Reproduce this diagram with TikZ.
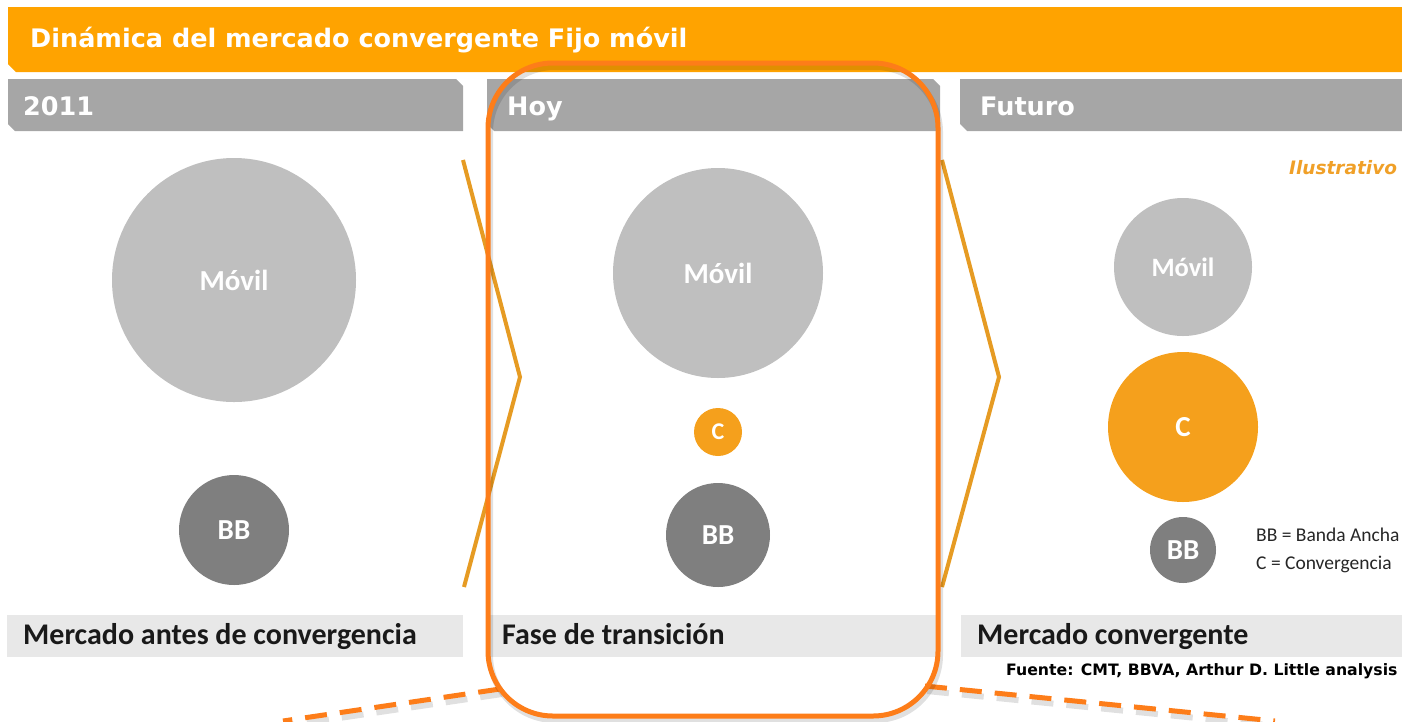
\documentclass[tikz,border=0pt]{standalone}
\usepackage{fontspec}
\setmainfont{DejaVu Sans}
\newfontfamily\carlito{Carlito}
\usetikzlibrary{positioning,calc}
\definecolor{headorange}{RGB}{255,163,0}
\definecolor{tabgray}{RGB}{166,166,166}
\definecolor{bargray}{RGB}{232,232,232}
\definecolor{lightcircle}{RGB}{191,191,191}
\definecolor{darkcircle}{RGB}{127,127,127}
\definecolor{convorange}{RGB}{245,160,28}
\definecolor{chevcolor}{RGB}{230,155,35}
\definecolor{framecolor}{RGB}{253,125,25}
\definecolor{illcolor}{RGB}{240,160,40}
\tikzstyle{market} = [circle, inner sep=0pt, text=white, font=\carlito\bfseries\fontsize{29}{29}\selectfont]
\tikzstyle{movil} = [market, fill=lightcircle]
\tikzstyle{bb} = [market, fill=darkcircle]
\tikzstyle{conv} = [market, fill=convorange]
\tikzstyle{tabbox} = [fill=tabgray]
\tikzstyle{tabtext} = [anchor=base west, inner sep=0pt, text=white, font=\bfseries\fontsize{25.5}{25.5}\selectfont]
\tikzstyle{barbox} = [fill=bargray]
\tikzstyle{bartext} = [anchor=base west, inner sep=0pt, text=black!90, font=\carlito\bfseries\fontsize{30}{30}\selectfont]
\tikzstyle{legendtext} = [anchor=base west, inner sep=0pt, text=black!85, font=\carlito\fontsize{19.5}{19.5}\selectfont]
\tikzstyle{chevronline} = [draw=chevcolor, line width=4pt]
\tikzstyle{hoyframe} = [draw=framecolor, line width=5pt, rounded corners=65pt]
\tikzstyle{zoomline} = [draw=framecolor, line width=5pt, dash pattern=on 22pt off 13pt]
\tikzstyle{softshadow} = [draw=black, opacity=0.12, line width=6pt]

\begin{document}
\begin{tikzpicture}[x=1pt, y=-1pt]
		\useasboundingbox (0,0) rectangle (1402,721);

		% Header
		\fill[headorange] (8,7) -- (1402,7) -- (1402,72) -- (16,72) -- (8,64) -- cycle;
		\node[anchor=base west, inner sep=0pt, text=white, font=\bfseries\fontsize{25.5}{25.5}\selectfont] (Title) at (30,47) {Dinámica del mercado convergente Fijo móvil};

		% Tabs
		\path[tabbox] (8,79) -- (456,79) -- (463,86) -- (463,131) -- (15,131) -- (8,124) -- cycle;
		\path[tabbox] (487,79) -- (933,79) -- (940,86) -- (940,131) -- (494,131) -- (487,124) -- cycle;
		\path[tabbox] (960,79) -- (1402,79) -- (1402,131) -- (967,131) -- (960,124) -- cycle;
		\node[tabtext] (Tab2011) at (23,115) {2011};
		\node[tabtext] (TabHoy) at (507,115) {Hoy};
		\node[tabtext] (TabFuturo) at (980,115) {Futuro};

		% Bottom bars
		\path[barbox] (7,615) rectangle (463,657);
		\path[barbox] (487,615) rectangle (940,657);
		\path[barbox] (961,615) rectangle (1402,657);
		\node[bartext] (Antes) at (23,644) {Mercado antes de convergencia};
		\node[bartext] (Fase) at (502,644) {Fase de transición};
		\node[bartext] (Convergente) at (977,644) {Mercado convergente};
		\node[anchor=base west, inner sep=0pt, font=\bfseries\fontsize{15.7}{15.7}\selectfont] (Fuente) at (1006,675) {Fuente: CMT, BBVA, Arthur D. Little analysis};
		\node[anchor=base west, inner sep=0pt, text=illcolor, font=\bfseries\itshape\fontsize{18.5}{18.5}\selectfont] (Ilustrativo) at (1289,174) {Ilustrativo};

		% Column 1
		\node[movil, minimum size=244pt] (Movil1) at (234,280) {Móvil};
		\node[bb, minimum size=110pt, below of = Movil1, node distance = 250pt] (BB1) {BB};

		% Column 2
		\node[movil, minimum size=210pt, right of = Movil1, node distance = 484pt, yshift=7pt] (Movil2) {Móvil};
		\node[conv, minimum size=48pt, below of = Movil2, node distance = 159pt, font=\carlito\bfseries\fontsize{24}{24}\selectfont] (C2) {C};
		\node[bb, minimum size=104pt, below of = C2, node distance = 103pt] (BB2) {BB};

		% Column 3
		\node[movil, minimum size=138pt, right of = Movil2, node distance = 465pt, yshift=6pt, font=\carlito\bfseries\fontsize{26.5}{26.5}\selectfont] (Movil3) {Móvil};
		\node[conv, minimum size=150pt, below of = Movil3, node distance = 160pt] (C3) {C};
		\node[bb, minimum size=66pt, below of = C3, node distance = 123pt] (BB3) {BB};
		\node[legendtext] (LegendBB) at (1256,541) {BB = Banda Ancha};
		\node[legendtext] (LegendC) at (1256,569) {C = Convergencia};

		% Chevrons
		\draw[chevronline] (463,160) -- (520,377) -- (464,587);
		\draw[chevronline] (942,160) -- (999,377) -- (942,587);

		% Zoom lines
		\coordinate (FrameL) at (500,689);
		\coordinate (ZoomL) at (283,721);
		\coordinate (FrameR) at (925,686);
		\coordinate (ZoomR) at (1275,721);
		\path[softshadow, dash pattern=on 22pt off 13pt] ($(FrameL)+(2,5)$) -- ($(ZoomL)+(2,5)$);
		\path[softshadow, dash pattern=on 22pt off 13pt] ($(FrameR)+(2,5)$) -- ($(ZoomR)+(2,5)$);
		\path[zoomline] (FrameL) -- (ZoomL);
		\path[zoomline] (FrameR) -- (ZoomR);

		% Frame
		\path[softshadow, rounded corners=65pt] (490,67) rectangle (940,720);
		\path[hoyframe] (488,63) rectangle (938,716);

	\end{tikzpicture}
\end{document}
